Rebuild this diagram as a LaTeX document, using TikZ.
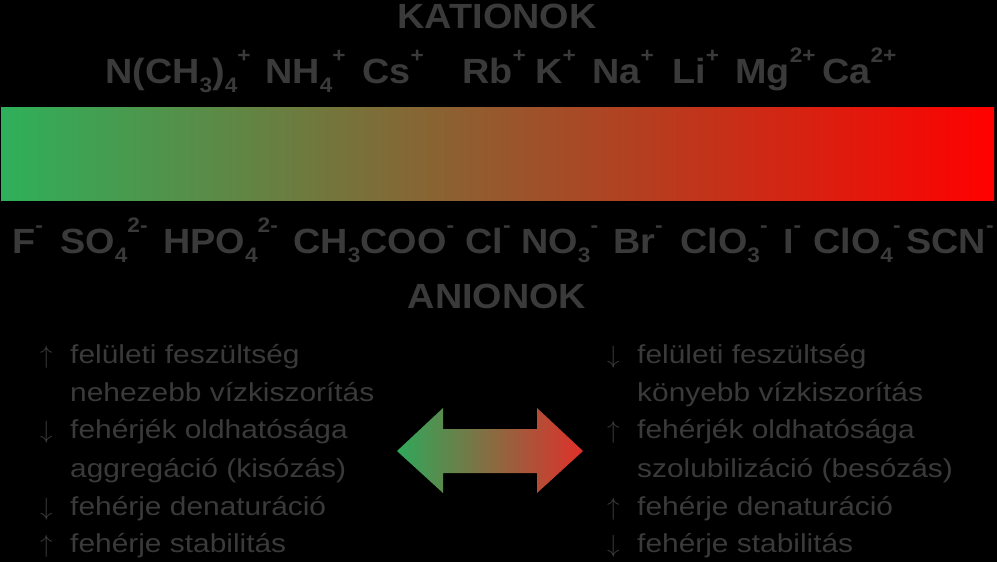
\documentclass[tikz,border=0pt]{standalone}
\usepackage{fontspec}
\setmainfont{Liberation Sans}
\newfontfamily\ionfont[FakeStretch=1.08]{Liberation Sans}
\newfontfamily\effectfont[FakeStretch=1.15]{Liberation Sans}
\definecolor{txtgray}{HTML}{3A3A3A}
\definecolor{bargreen}{HTML}{2EB05A}
\definecolor{barred}{HTML}{FF0000}
\definecolor{arrgreen}{HTML}{2FA85A}
\definecolor{arrred}{HTML}{E0302A}
\newcommand{\ionup}[1]{\raisebox{21pt}{\fontsize{21}{21}\selectfont #1}}
\newcommand{\iondn}[1]{\raisebox{-9pt}{\fontsize{21}{21}\selectfont #1}}
\newcommand{\effarrow}[1]{\makebox[30pt][l]{\fontsize{30}{30}\selectfont$#1$}}

\begin{document}
\begin{tikzpicture}[x=1pt,y=1pt]
\tikzstyle{every node}+=[inner sep=0pt, anchor=base west, text=txtgray]
\tikzstyle{ion}=[font=\ionfont\fontsize{35}{35}\selectfont\bfseries]
\tikzstyle{effect}=[font=\effectfont\fontsize{26}{26}\selectfont]
\useasboundingbox (0,0) rectangle (997,-562);
\fill [black] (0,0) rectangle (997,-562);
% series bar
\shade [left color=bargreen, right color=barred] (1,-107) rectangle (994,-200);
\node [ion, anchor=base] (kat) at (497,-28) {KATIONOK};
\node [ion, anchor=base] (ani) at (497,-308) {ANIONOK};
% cations
\node [ion] (ntma) at (105,-83) {N(CH\iondn{3})\iondn{4}\ionup{+}};
\node [ion] (nh4) at (265,-83) {NH\iondn{4}\ionup{+}};
\node [ion] (cs) at (362,-83) {Cs\ionup{+}};
\node [ion] (rb) at (462,-83) {Rb\ionup{+}};
\node [ion] (k) at (535,-83) {K\ionup{+}};
\node [ion] (na) at (592,-83) {Na\ionup{+}};
\node [ion] (li) at (672,-83) {Li\ionup{+}};
\node [ion] (mg) at (735,-83) {Mg\ionup{2+}};
\node [ion] (ca) at (822,-83) {Ca\ionup{2+}};
% anions
\node [ion] (f) at (12,-253) {F\ionup{-}};
\node [ion] (so4) at (60,-253) {SO\iondn{4}\ionup{2-}};
\node [ion] (hpo4) at (163,-253) {HPO\iondn{4}\ionup{2-}};
\node [ion] (ac) at (293,-253) {CH\iondn{3}COO\ionup{-}};
\node [ion] (cl) at (465,-253) {Cl\ionup{-}};
\node [ion] (no3) at (521,-253) {NO\iondn{3}\ionup{-}};
\node [ion] (br) at (613,-253) {Br\ionup{-}};
\node [ion] (clo3) at (680,-253) {ClO\iondn{3}\ionup{-}};
\node [ion] (i) at (783,-253) {I\ionup{-}};
\node [ion] (clo4) at (813,-253) {ClO\iondn{4}\ionup{-}};
\node [ion] (scn) at (906,-253) {SCN\ionup{-}};
% double arrow
\shade [left color=arrgreen, right color=arrred] (397,-451) -- (443,-408) -- (443,-429) -- (537,-429) -- (537,-408) -- (583,-451) -- (537,-493) -- (537,-473) -- (443,-473) -- (443,-493) -- cycle;
% left effects
\node [effect] (l1) at (40,-363) {\effarrow{\uparrow}felületi feszültség};
\node [effect] (l2) at (40,-401) {\effarrow{}nehezebb vízkiszorítás};
\node [effect] (l3) at (40,-438) {\effarrow{\downarrow}fehérjék oldhatósága};
\node [effect] (l4) at (40,-477) {\effarrow{}aggregáció (kisózás)};
\node [effect] (l5) at (40,-515) {\effarrow{\downarrow}fehérje denaturáció};
\node [effect] (l6) at (40,-552) {\effarrow{\uparrow}fehérje stabilitás};
% right effects
\node [effect] (r1) at (607,-363) {\effarrow{\downarrow}felületi feszültség};
\node [effect] (r2) at (607,-401) {\effarrow{}könyebb vízkiszorítás};
\node [effect] (r3) at (607,-438) {\effarrow{\uparrow}fehérjék oldhatósága};
\node [effect] (r4) at (607,-477) {\effarrow{}szolubilizáció (besózás)};
\node [effect] (r5) at (607,-515) {\effarrow{\uparrow}fehérje denaturáció};
\node [effect] (r6) at (607,-552) {\effarrow{\downarrow}fehérje stabilitás};
\end{tikzpicture}
\end{document}
